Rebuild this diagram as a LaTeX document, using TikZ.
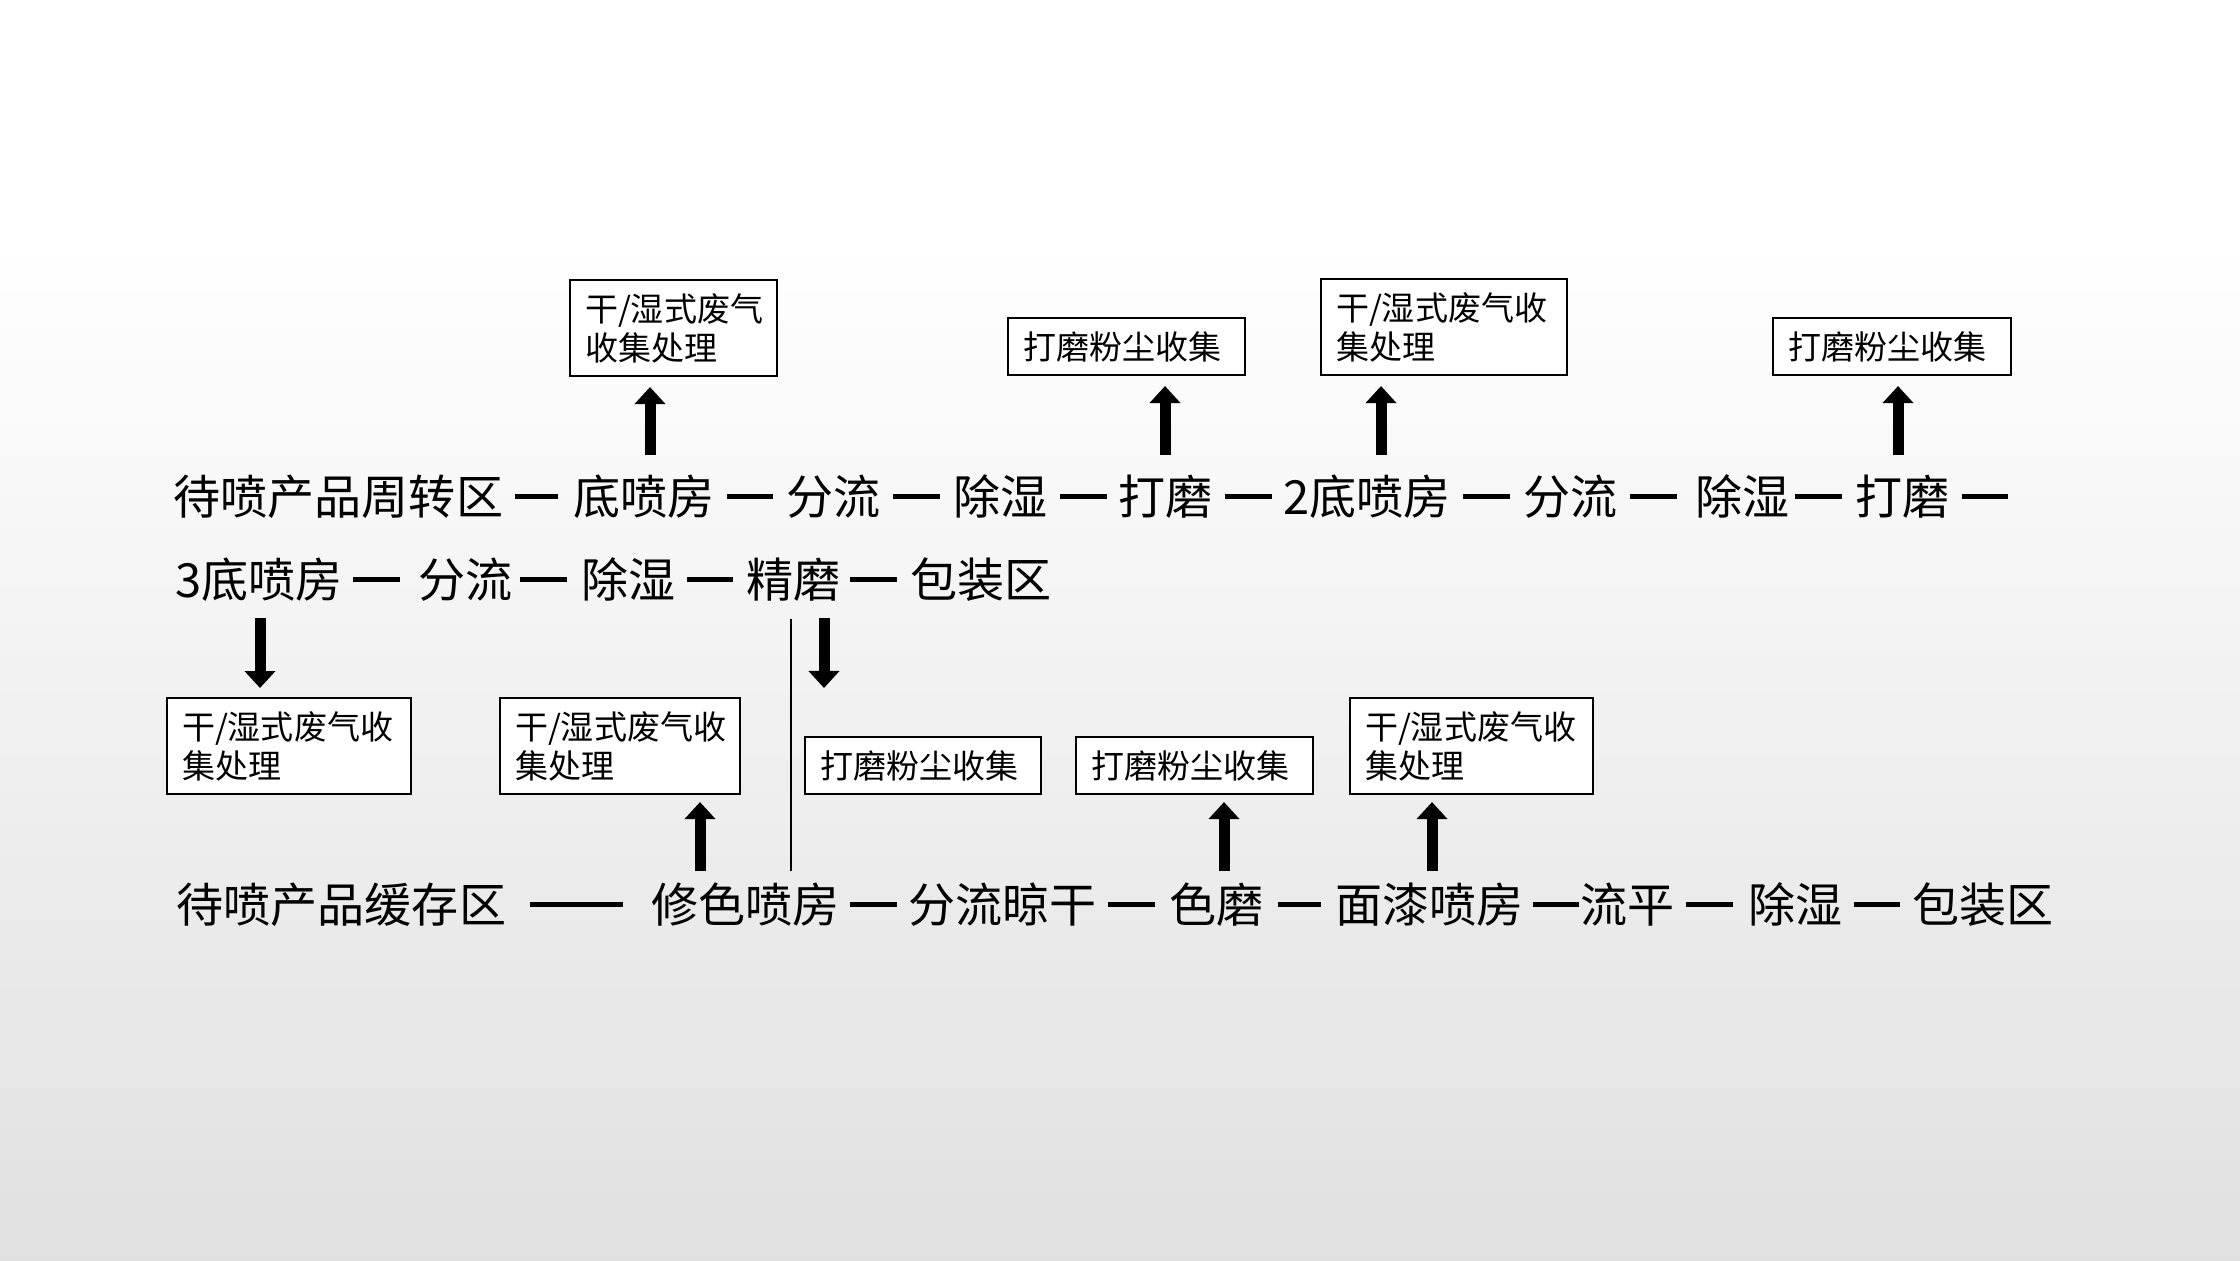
\documentclass[tikz,border=0pt]{standalone}
\usepackage{fontspec}
\newfontfamily\cjk{Noto Sans CJK SC}
\usetikzlibrary{arrows.meta}
\begin{document}
\begin{tikzpicture}[x=0.01cm,y=-0.01cm,
  word/.style={font=\cjk\fontsize{13.38pt}{16pt}\selectfont, inner sep=0pt,
    text height=0.385cm, text depth=0.035cm, anchor=base west},
  pbox/.style={draw=black, line width=0.02cm, fill=white,
    font=\cjk\fontsize{9.39pt}{11.1pt}\selectfont, inner xsep=0.15cm,
    inner ysep=0pt, align=left, anchor=north west},
  twoline/.style={minimum height=0.96cm},
  oneline/.style={minimum height=0.57cm},
  dl/.style={line width=0.042cm},
  fat/.style={line width=0.11cm, -{Triangle[width=0.3cm,length=0.17cm]}},
  vline/.style={line width=0.025cm}]

% background
\fill[white] (0,0) rectangle (2240,1260);
\shade[top color=white, bottom color=black!12] (0,240) rectangle (2240,1260);
\useasboundingbox (0,0) rectangle (2240,1260);

% row 1
\node[word] (w11) at (173,514) {待喷产品周转区};
\node[word] (w12) at (573,514) {底喷房};
\node[word] (w13) at (786,514) {分流};
\node[word] (w14) at (953,514) {除湿};
\node[word] (w15) at (1118,514) {打磨};
\node[word] (w16) at (1283,514) {2底喷房};
\node[word] (w17) at (1523,514) {分流};
\node[word] (w18) at (1695,514) {除湿};
\node[word] (w19) at (1855,514) {打磨};
\coordinate (r1end) at (2008,0 |- w19.east);

\draw[dl] (515,0 |- w11.east) -- (558,0 |- w12.west);
\draw[dl] (727,0 |- w12.east) -- (773,0 |- w13.west);
\draw[dl] (893,0 |- w13.east) -- (940,0 |- w14.west);
\draw[dl] (1060,0 |- w14.east) -- (1107,0 |- w15.west);
\draw[dl] (1225,0 |- w15.east) -- (1272,0 |- w16.west);
\draw[dl] (1463,0 |- w16.east) -- (1510,0 |- w17.west);
\draw[dl] (1630,0 |- w17.east) -- (1677,0 |- w18.west);
\draw[dl] (1795,0 |- w18.east) -- (1842,0 |- w19.west);
\draw[dl] (1962,0 |- w19.east) -- (r1end);

% row 2
\node[word] (w21) at (175,597) {3底喷房};
\node[word] (w22) at (418,597) {分流};
\node[word] (w23) at (581,597) {除湿};
\node[word] (w24) at (746,597) {精磨};
\node[word] (w25) at (910,597) {包装区};

\draw[dl] (353,0 |- w21.east) -- (400,0 |- w22.west);
\draw[dl] (520,0 |- w22.east) -- (567,0 |- w23.west);
\draw[dl] (687,0 |- w23.east) -- (733,0 |- w24.west);
\draw[dl] (850,0 |- w24.east) -- (897,0 |- w25.west);

% row 3
\node[word] (w31) at (176,922) {待喷产品缓存区};
\node[word] (w32) at (651,922) {修色喷房};
\node[word] (w33) at (908,922) {分流晾干};
\node[word] (w34) at (1169,922) {色磨};
\node[word] (w35) at (1335,922) {面漆喷房};
\node[word] (w36) at (1580,922) {流平};
\node[word] (w37) at (1748,922) {除湿};
\node[word] (w38) at (1912,922) {包装区};

\draw[dl] (530,0 |- w31.east) -- (623,0 |- w32.west);
\draw[dl] (850,0 |- w32.east) -- (897,0 |- w33.west);
\draw[dl] (1108,0 |- w33.east) -- (1155,0 |- w34.west);
\draw[dl] (1278,0 |- w34.east) -- (1321,0 |- w35.west);
\draw[dl] (1533,0 |- w35.east) -- (1579,0 |- w36.west);
\draw[dl] (1686,0 |- w36.east) -- (1733,0 |- w37.west);
\draw[dl] (1854,0 |- w37.east) -- (1900,0 |- w38.west);

% boxes top
\node[pbox, twoline, text width=1.77cm] (bA) at (569,279) {干/湿式废气\\收集处理};
\node[pbox, oneline, text width=2.07cm] (bB) at (1007,317) {打磨粉尘收集};
\node[pbox, twoline, text width=2.16cm] (bC) at (1320,278) {干/湿式废气收\\集处理};
\node[pbox, oneline, text width=2.08cm] (bD) at (1772,317) {打磨粉尘收集};

% boxes bottom
\node[pbox, twoline, text width=2.14cm] (b1) at (166,697) {干/湿式废气收\\集处理};
\node[pbox, twoline, text width=2.10cm] (b2) at (499,697) {干/湿式废气收\\集处理};
\node[pbox, oneline, text width=2.06cm] (b3) at (804,736) {打磨粉尘收集};
\node[pbox, oneline, text width=2.07cm] (b4) at (1075,736) {打磨粉尘收集};
\node[pbox, twoline, text width=2.13cm] (b5) at (1349,697) {干/湿式废气收\\集处理};

% arrows row 1 (up)
\draw[fat, shorten <=0.195cm, shorten >=0.1cm] (650,0 |- w12.north) -- (650,0 |- bA.south);
\draw[fat, shorten <=0.195cm, shorten >=0.1cm] (1165,0 |- w15.north) -- (1165,0 |- bB.south);
\draw[fat, shorten <=0.195cm, shorten >=0.1cm] (1381,0 |- w16.north) -- (1381,0 |- bC.south);
\draw[fat, shorten <=0.195cm, shorten >=0.1cm] (1898,0 |- w19.north) -- (1898,0 |- bD.south);

% arrows row 2 (down)
\draw[fat, shorten <=0.165cm, shorten >=0.09cm] (260,0 |- w21.south) -- (260,0 |- b1.north);
\draw[fat, shorten <=0.165cm, shorten >=0.48cm] (824,0 |- w24.south) -- (824,0 |- b3.north);

% vertical line
\draw[vline, shorten <=0.175cm, shorten >=0.115cm] (791,0 |- w24.south) -- (791,0 |- w32.north);

% arrows row 3 (up)
\draw[fat, shorten <=0.115cm, shorten >=0.07cm] (700,0 |- w32.north) -- (700,0 |- b2.south);
\draw[fat, shorten <=0.115cm, shorten >=0.07cm] (1224,0 |- w34.north) -- (1224,0 |- b4.south);
\draw[fat, shorten <=0.115cm, shorten >=0.07cm] (1432,0 |- w35.north) -- (1432,0 |- b5.south);
\end{tikzpicture}
\end{document}
